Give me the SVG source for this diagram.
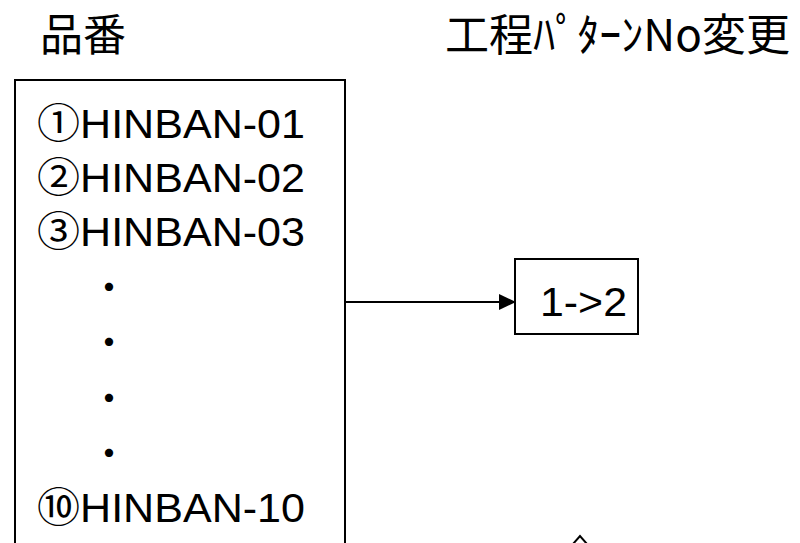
<svg xmlns="http://www.w3.org/2000/svg" width="800" height="543" viewBox="0 0 800 543">
<style>
.hd{font-family:"Noto Sans CJK JP","Liberation Sans",sans-serif;font-size:44px;fill:#000}
.it{font-family:"Liberation Sans","Noto Sans CJK JP",sans-serif;font-size:41px;fill:#000}
.dot{font-family:"Noto Sans CJK JP",sans-serif;font-size:32px;font-weight:bold;fill:#000}
.box{fill:#fff;stroke:#000;stroke-width:2}
.conn{stroke:#000;stroke-width:2;fill:none}
</style>
<defs>
<marker id="ah" markerUnits="userSpaceOnUse" markerWidth="17" markerHeight="16" refX="16" refY="8" orient="auto">
<path d="M0,0 L17,8 L0,16 Z" fill="#000"/>
</marker>
</defs>
<rect width="800" height="543" fill="#fff"/>
<g id="title-hinban"><text class="hd" x="40" y="51" textLength="86" lengthAdjust="spacingAndGlyphs">品番</text></g>
<g id="title-change"><text class="hd" x="445" y="51" textLength="345" lengthAdjust="spacingAndGlyphs">工程ﾊﾟﾀｰﾝNo変更</text></g>
<g id="node-list">
<rect class="box" x="15" y="80" width="330" height="470"/>
<text class="it" x="37" y="138" textLength="268" lengthAdjust="spacingAndGlyphs">①HINBAN-01</text>
<text class="it" x="37" y="192" textLength="268" lengthAdjust="spacingAndGlyphs">②HINBAN-02</text>
<text class="it" x="37" y="246" textLength="268" lengthAdjust="spacingAndGlyphs">③HINBAN-03</text>
<text class="dot" x="109" y="299" text-anchor="middle">・</text>
<text class="dot" x="109" y="354" text-anchor="middle">・</text>
<text class="dot" x="109" y="410" text-anchor="middle">・</text>
<text class="dot" x="109" y="465" text-anchor="middle">・</text>
<text class="it" x="37" y="522" textLength="268" lengthAdjust="spacingAndGlyphs">⑩HINBAN-10</text>
</g>
<g id="node-change">
<rect class="box" x="515" y="259" width="123" height="75"/>
<text class="it" x="540" y="316" textLength="87" lengthAdjust="spacingAndGlyphs">1-&gt;2</text>
</g>
<g id="connectors">
<line class="conn" x1="345" y1="302" x2="515" y2="302" marker-end="url(#ah)"/>
<polyline class="conn" points="573,544 580,536 587,544"/>
</g>
</svg>
